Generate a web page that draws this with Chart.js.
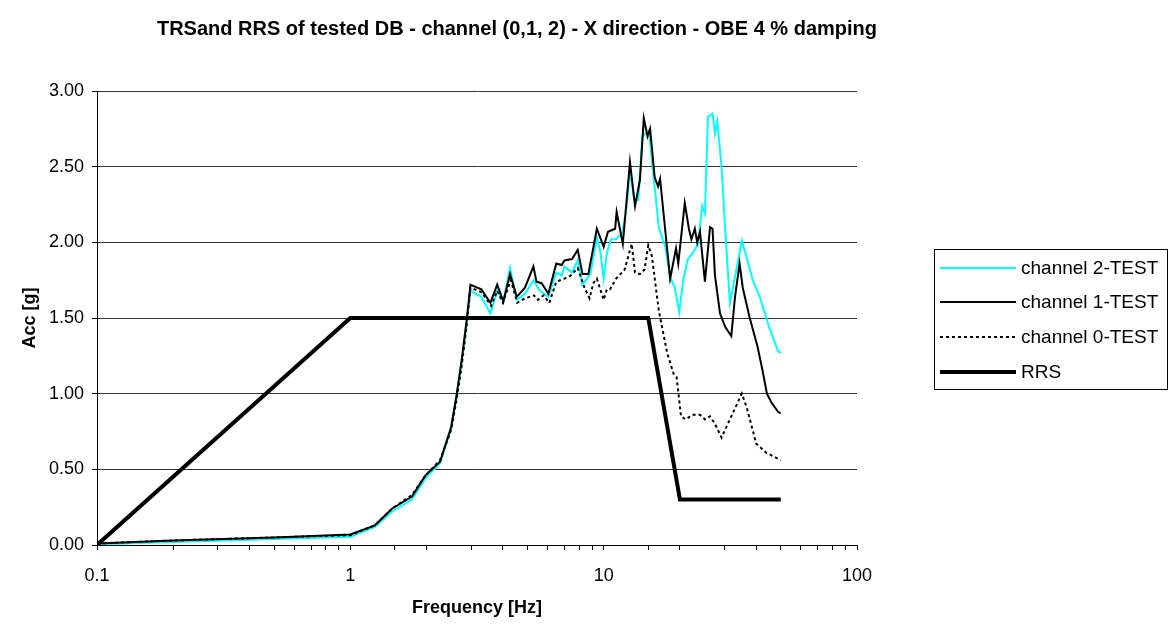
<!DOCTYPE html>
<html>
<head>
<meta charset="utf-8">
<title>TRS and RRS - channel (0,1,2) - X direction</title>
<script src="https://cdn.jsdelivr.net/npm/chart.js@4.4.1/dist/chart.umd.min.js"></script>
<style>
  html, body { margin: 0; padding: 0; background: #fff; }
  #wrap { width: 1170px; height: 627px; }
</style>
</head>
<body>
<div id="wrap"><canvas id="c" width="1170" height="627"></canvas></div>
<script>
// Response spectra, frequency in Hz, acceleration in g
const ch2Freq = [0.1, 0.2, 0.5, 1.0, 1.25, 1.46, 1.75, 1.98, 2.26, 2.5, 2.62, 2.75, 2.88, 2.98, 3.29, 3.57, 3.8, 4.02, 4.27, 4.54, 4.89, 5.28, 5.6, 6.05, 6.5, 6.83, 7.0, 7.5, 7.9, 8.25, 8.86, 9.4, 9.7, 10.0, 10.3, 10.7, 11.2, 11.9, 12.3, 12.7, 13.2, 13.7, 14.2, 15.1, 15.6, 16.5, 17.5, 18.3, 19.1, 19.9, 20.6, 21.5, 22.5, 23.6, 24.5, 25.1, 25.8, 26.9, 27.5, 28.1, 29.2, 30.2, 31.5, 33.0, 35.1, 36.7, 38.8, 41.3, 45.0, 48.8, 50.0];
const ch2Acc  = [0.005, 0.02, 0.04, 0.055, 0.12, 0.22, 0.30, 0.44, 0.54, 0.77, 0.97, 1.20, 1.47, 1.68, 1.64, 1.53, 1.68, 1.61, 1.83, 1.62, 1.66, 1.75, 1.68, 1.64, 1.80, 1.78, 1.84, 1.80, 1.88, 1.72, 1.79, 2.03, 1.94, 1.76, 1.93, 2.02, 2.02, 2.07, 2.23, 2.48, 2.28, 2.28, 2.70, 2.74, 2.50, 2.10, 1.97, 1.77, 1.70, 1.54, 1.75, 1.89, 1.93, 1.99, 2.24, 2.19, 2.83, 2.85, 2.72, 2.80, 2.50, 2.08, 1.60, 1.77, 2.01, 1.90, 1.75, 1.64, 1.44, 1.28, 1.27];

const ch1Freq = [0.1, 0.2, 0.5, 1.0, 1.25, 1.46, 1.75, 1.98, 2.26, 2.5, 2.62, 2.75, 2.88, 2.98, 3.29, 3.57, 3.8, 4.02, 4.27, 4.54, 4.89, 5.28, 5.43, 5.69, 6.05, 6.5, 6.83, 7.0, 7.5, 7.9, 8.25, 8.7, 9.4, 10.0, 10.4, 11.1, 11.25, 11.9, 12.7, 13.3, 13.9, 14.4, 14.9, 15.25, 15.9, 16.4, 16.7, 17.5, 18.3, 19.3, 19.7, 20.9, 21.7, 22.2, 22.9, 23.4, 24.0, 25.1, 26.3, 26.9, 27.5, 28.8, 30.2, 31.9, 33.0, 34.4, 35.4, 37.6, 40.5, 42.3, 44.1, 46.0, 48.8, 50.0];
const ch1Acc  = [0.01, 0.03, 0.05, 0.07, 0.13, 0.24, 0.32, 0.46, 0.55, 0.78, 0.98, 1.22, 1.49, 1.72, 1.69, 1.60, 1.72, 1.61, 1.79, 1.64, 1.70, 1.84, 1.74, 1.73, 1.66, 1.86, 1.85, 1.88, 1.89, 1.95, 1.79, 1.79, 2.09, 1.97, 2.07, 2.09, 2.20, 1.99, 2.53, 2.24, 2.41, 2.82, 2.70, 2.75, 2.43, 2.37, 2.42, 2.08, 1.76, 1.96, 1.86, 2.26, 2.09, 2.02, 2.09, 2.00, 2.07, 1.74, 2.10, 2.09, 1.78, 1.53, 1.44, 1.38, 1.64, 1.86, 1.70, 1.51, 1.31, 1.16, 1.00, 0.94, 0.88, 0.87];

const ch0Freq = [0.1, 0.2, 0.5, 1.0, 1.25, 1.46, 1.75, 1.98, 2.26, 2.5, 2.62, 2.75, 2.88, 2.98, 3.3, 3.6, 3.8, 4.0, 4.3, 4.56, 4.9, 5.3, 5.5, 5.8, 6.1, 6.5, 7.0, 7.4, 7.9, 8.4, 8.8, 9.1, 9.4, 10.0, 10.3, 10.6, 11.2, 12.1, 12.9, 13.3, 13.9, 14.5, 15.0, 15.5, 16.5, 17.0, 17.8, 18.9, 19.4, 20.2, 21.1, 22.4, 24.0, 25.1, 26.3, 27.5, 29.2, 31.9, 35.1, 36.7, 40.0, 43.8, 48.8, 50.0];
const ch0Acc  = [0.01, 0.03, 0.05, 0.065, 0.13, 0.24, 0.33, 0.46, 0.56, 0.76, 0.95, 1.18, 1.45, 1.70, 1.67, 1.58, 1.68, 1.60, 1.75, 1.60, 1.63, 1.65, 1.62, 1.65, 1.60, 1.74, 1.76, 1.78, 1.83, 1.70, 1.63, 1.73, 1.76, 1.62, 1.69, 1.69, 1.76, 1.82, 1.99, 1.80, 1.79, 1.82, 1.98, 1.91, 1.55, 1.44, 1.27, 1.13, 1.11, 0.85, 0.83, 0.86, 0.86, 0.83, 0.85, 0.80, 0.71, 0.85, 1.00, 0.91, 0.67, 0.61, 0.57, 0.56];

// Required response spectrum
const rrsFreq = [0.1, 1, 15, 20, 50];
const rrsAcc  = [0, 1.5, 1.5, 0.3, 0.3];

const seriesNames = ['channel 2-TEST', 'channel 1-TEST', 'channel 0-TEST', 'RRS'];
const xTickLabels = ['0.1', '1', '10', '100'];

const FONT = '"Liberation Sans", Arial, Helvetica, sans-serif';
const pts = (fx, fy) => fx.map((f, i) => ({ x: f, y: fy[i] }));

// Title and boxed legend drawn on top of the chart
const decor = {
  id: 'decor',
  afterDraw(chart) {
    const ctx = chart.ctx;
    ctx.save();
    ctx.fillStyle = '#000';
    ctx.font = 'bold 20px ' + FONT;
    ctx.textAlign = 'center';
    ctx.textBaseline = 'middle';
    ctx.fillText('TRSand RRS of tested DB - channel (0,1, 2) - X direction - OBE 4 % damping', 517, 29);

    // legend box
    const bx = 934, by = 249, bw = 233, bh = 140;
    ctx.strokeStyle = '#000';
    ctx.lineWidth = 1;
    ctx.setLineDash([]);
    ctx.strokeRect(bx + 0.5, by + 0.5, bw, bh);
    const rows = [268, 302, 337, 372];
    ctx.font = '19px ' + FONT;
    ctx.textAlign = 'left';
    seriesNames.forEach((name, i) => {
      const ds = chart.data.datasets.find(d => d.label === name);
      const y = rows[i];
      ctx.beginPath();
      ctx.strokeStyle = ds.borderColor;
      ctx.lineWidth = ds.borderWidth;
      ctx.setLineDash(ds.borderDash || []);
      ctx.moveTo(940, y);
      ctx.lineTo(1016, y);
      ctx.stroke();
      ctx.setLineDash([]);
      ctx.fillStyle = '#000';
      ctx.fillText(name, 1021, y + 1);
    });
    ctx.restore();
  }
};

new Chart(document.getElementById('c'), {
  type: 'line',
  data: {
    datasets: [
      { label: seriesNames[0], data: pts(ch2Freq, ch2Acc), borderColor: '#00FFFF', borderWidth: 2, order: 3 },
      { label: seriesNames[1], data: pts(ch1Freq, ch1Acc), borderColor: '#000000', borderWidth: 2, order: 1 },
      { label: seriesNames[2], data: pts(ch0Freq, ch0Acc), borderColor: '#000000', borderWidth: 2, borderDash: [3, 3], order: 2 },
      { label: seriesNames[3], data: pts(rrsFreq, rrsAcc), borderColor: '#000000', borderWidth: 4, order: 0 }
    ]
  },
  options: {
    responsive: false,
    animation: false,
    devicePixelRatio: 1,
    elements: { point: { radius: 0 }, line: { tension: 0, fill: false } },
    layout: { padding: { left: 0, top: 91, right: 313, bottom: 0 } },
    plugins: { legend: { display: false }, tooltip: { enabled: false }, title: { display: false } },
    scales: {
      x: {
        type: 'logarithmic',
        min: 0.1,
        max: 100,
        afterFit(s) { s.height = 82; },
        border: { display: true, color: '#000', width: 1 },
        grid: { drawOnChartArea: false, drawTicks: true, tickLength: 5, tickColor: '#000' },
        ticks: {
          autoSkip: false,
          maxRotation: 0,
          padding: 15,
          color: '#000',
          font: { family: FONT, size: 18 },
          callback(v) {
            const l = Math.log10(v);
            if (Math.abs(l - Math.round(l)) < 1e-6) {
              return xTickLabels[Math.round(l) + 1];
            }
            return '';
          }
        },
        title: { display: true, text: 'Frequency [Hz]', color: '#000', font: { family: FONT, size: 18, weight: 'bold' }, padding: { top: 0, bottom: 8 } }
      },
      y: {
        min: 0,
        max: 3,
        afterFit(s) { s.width = 97; },
        border: { display: true, color: '#000', width: 1 },
        grid: { color: '#333', lineWidth: 1, drawTicks: true, tickLength: 5, tickColor: '#000' },
        ticks: {
          stepSize: 0.5,
          padding: 8,
          color: '#000',
          font: { family: FONT, size: 18 },
          callback(v) { return Number(v).toFixed(2); }
        },
        title: { display: true, text: 'Acc [g]', color: '#000', font: { family: FONT, size: 18, weight: 'bold' }, padding: { top: 19, bottom: 0 } }
      }
    }
  },
  plugins: [decor]
});
</script>
</body>
</html>
